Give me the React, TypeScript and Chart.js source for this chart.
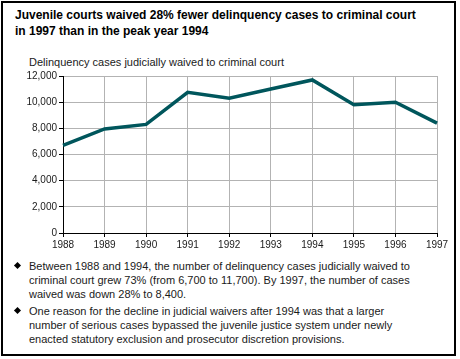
import React, { useEffect, useRef } from "react";
import { Chart, registerables } from "chart.js";

Chart.register(...registerables);

// Delinquency cases judicially waived to criminal court, by year
const years = ["1988", "1989", "1990", "1991", "1992", "1993", "1994", "1995", "1996", "1997"];
const waivedCases = [6700, 7950, 8300, 10750, 10300, 11000, 11700, 9800, 10000, 8400];

const titleLines = [
  "Juvenile courts waived 28% fewer delinquency cases to criminal court",
  "in 1997 than in the peak year 1994",
];
const subtitle = "Delinquency cases judicially waived to criminal court";
const bulletOne = [
  "Between 1988 and 1994, the number of delinquency cases judicially waived to",
  "criminal court grew 73% (from 6,700 to 11,700). By 1997, the number of cases",
  "waived was down 28% to 8,400.",
];
const bulletTwo = [
  "One reason for the decline in judicial waivers after 1994 was that a larger",
  "number of serious cases bypassed the juvenile justice system under newly",
  "enacted statutory exclusion and prosecutor discretion provisions.",
];

const FONT = 'Arial, "Liberation Sans", Helvetica, sans-serif';

function Bullet({ top, lines }: { top: number; lines: string[] }) {
  return (
    <div style={{ position: "absolute", left: 0, top, width: 460 }}>
      <div
        style={{
          position: "absolute",
          left: 15,
          top: 4,
          width: 5,
          height: 5,
          background: "#000",
          transform: "rotate(45deg)",
        }}
      />
      <div
        style={{
          position: "absolute",
          left: 29,
          top: 0,
          fontSize: 11,
          lineHeight: "14px",
          color: "#1a1a1a",
          whiteSpace: "nowrap",
        }}
      >
        {lines.map((l, i) => (
          <div key={i}>{l}</div>
        ))}
      </div>
    </div>
  );
}

export default function App() {
  const canvasRef = useRef<HTMLCanvasElement | null>(null);

  useEffect(() => {
    const canvas = canvasRef.current;
    if (!canvas) return;
    const chart = new Chart(canvas, {
      type: "line",
      data: {
        labels: years,
        datasets: [
          {
            data: waivedCases,
            borderColor: "#00565c",
            borderWidth: 3.5,
            pointRadius: 0,
            tension: 0,
            fill: false,
          },
        ],
      },
      options: {
        animation: false,
        responsive: false,
        maintainAspectRatio: false,
        layout: { padding: { left: 0, right: 23, top: 76, bottom: 0 } },
        plugins: {
          legend: { display: false },
          tooltip: { enabled: false },
          title: { display: false },
        },
        scales: {
          x: {
            type: "category",
            offset: false,
            grid: {
              color: "#b3b3b3",
              lineWidth: 1,
              tickLength: 4,
              tickColor: "#000",
            },
            border: { color: "#000", width: 1 },
            ticks: {
              color: "#1a1a1a",
              font: { family: FONT, size: 10 },
              padding: 2,
              maxRotation: 0,
              autoSkip: false,
            },
            afterFit: (axis: any) => {
              axis.height = 19;
            },
          },
          y: {
            min: 0,
            max: 12000,
            grid: {
              color: "#b3b3b3",
              lineWidth: 1,
              tickLength: 4,
              tickColor: "#000",
            },
            border: { color: "#000", width: 1 },
            ticks: {
              stepSize: 2000,
              color: "#1a1a1a",
              font: { family: FONT, size: 10 },
              padding: 2,
              callback: (v: any) => Number(v).toLocaleString("en-US"),
            },
            afterFit: (axis: any) => {
              axis.width = 63;
            },
          },
        },
      },
    });
    return () => chart.destroy();
  }, []);

  return (
    <div
      style={{
        position: "fixed",
        left: 0,
        top: 0,
        width: 460,
        height: 359,
        background: "#fff",
        fontFamily: FONT,
        overflow: "hidden",
      }}
    >
      <div
        style={{
          position: "absolute",
          left: 1,
          top: 1,
          width: 455,
          height: 355,
          border: "2px solid #000",
          boxSizing: "border-box",
        }}
      />
      <div
        style={{
          position: "absolute",
          left: 15,
          top: 7,
          fontSize: 12,
          fontWeight: "bold",
          lineHeight: "16px",
          color: "#000",
          whiteSpace: "nowrap",
        }}
      >
        {titleLines.map((l, i) => (
          <div key={i}>{l}</div>
        ))}
      </div>
      <div
        style={{
          position: "absolute",
          left: 29,
          top: 55,
          fontSize: 11,
          lineHeight: "14px",
          color: "#1a1a1a",
          whiteSpace: "nowrap",
        }}
      >
        {subtitle}
      </div>
      <canvas
        ref={canvasRef}
        width={460}
        height={252}
        style={{ position: "absolute", left: 0, top: 0, width: 460, height: 252 }}
      />
      <Bullet top={259} lines={bulletOne} />
      <Bullet top={304} lines={bulletTwo} />
    </div>
  );
}
